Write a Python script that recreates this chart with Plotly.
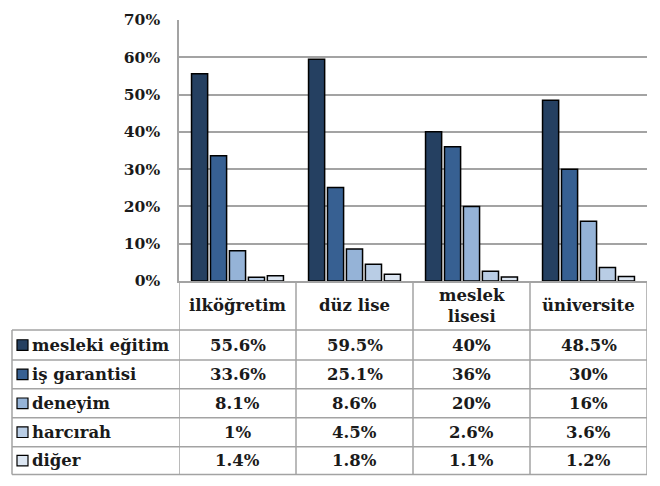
import plotly.graph_objects as go

# veriler (yüzde)
kategoriler = ["ilköğretim", "düz lise", "meslek lisesi", "üniversite"]
baslik_etiketleri = ["ilköğretim", "düz lise", "meslek<br>lisesi", "üniversite"]
seriler = ["mesleki eğitim", "iş garantisi", "deneyim", "harcırah", "diğer"]
mesleki_egitim = [55.6, 59.5, 40, 48.5]
is_garantisi = [33.6, 25.1, 36, 30]
deneyim = [8.1, 8.6, 20, 16]
harcirah = [1, 4.5, 2.6, 3.6]
diger = [1.4, 1.8, 1.1, 1.2]
degerler = [mesleki_egitim, is_garantisi, deneyim, harcirah, diger]
renkler = ["#254061", "#376092", "#95B3D7", "#B9CDE5", "#DCE6F2"]

FONT = "Georgia, 'DejaVu Serif', serif"
GRI = "#a3a3a3"

W, H = 660, 486
L, R, T, B = 179, 13, 10, 205
PW, PH = W - L - R, H - T - B
Y0 = T + PH  # piksel: 0% çizgisi


def px(x):
    return (x - L) / PW


def py(y):
    return (Y0 - y) / PH


fig = go.Figure()
for ad, vals, renk in zip(seriler, degerler, renkler):
    fig.add_trace(go.Bar(
        x=kategoriler, y=vals, name=ad,
        marker=dict(color=renk, line=dict(color="black", width=1.5)),
        hovertemplate="%{x}<br>" + ad + ": %{y}%<extra></extra>",
    ))

# tablo satır sınırları (piksel)
satirlar = [332, 363, 393, 423, 453, 482]
shapes = []
cizgi = dict(color=GRI, width=1.5)
# yatay çizgiler
for y in satirlar:
    shapes.append(dict(type="line", xref="paper", yref="paper",
                       x0=px(12), x1=1, y0=py(y), y1=py(y), line=cizgi))
# dikey çizgiler (kategori sınırları)
for k in range(len(kategoriler) + 1):
    shapes.append(dict(type="line", xref="x", yref="paper",
                       x0=k - 0.5, x1=k - 0.5, y0=0, y1=py(satirlar[-1]), line=cizgi))
shapes.append(dict(type="line", xref="paper", yref="paper",
                   x0=px(12), x1=px(12), y0=py(satirlar[0]), y1=py(satirlar[-1]), line=cizgi))

annotations = []
yazi = dict(family=FONT, size=16.5, color="#1a1a1a", weight="bold")
# başlık satırı
for i, et in enumerate(baslik_etiketleri):
    annotations.append(dict(x=i, y=py((Y0 + satirlar[0]) / 2), xref="x", yref="paper",
                            xanchor="center", yanchor="middle",
                            text=et, showarrow=False, font=yazi))
# veri satırları
for j, (ad, vals, renk) in enumerate(zip(seriler, degerler, renkler)):
    ym = (satirlar[j] + satirlar[j + 1]) / 2
    shapes.append(dict(type="rect", xref="paper", yref="paper",
                       x0=px(17), x1=px(28), y0=py(ym - 5.5), y1=py(ym + 5.5),
                       fillcolor=renk, line=dict(color="black", width=1.2)))
    annotations.append(dict(x=px(30), y=py(ym), xref="paper", yref="paper",
                            xanchor="left", yanchor="middle", text=ad,
                            showarrow=False, font=yazi))
    for i, v in enumerate(vals):
        annotations.append(dict(x=i, y=py(ym), xref="x", yref="paper",
                                xanchor="center", yanchor="middle",
                                text="%g%%" % v, showarrow=False, font=yazi))

fig.update_layout(
    width=W, height=H, autosize=False,
    margin=dict(l=L, r=R, t=T, b=B),
    plot_bgcolor="white", paper_bgcolor="white",
    showlegend=False,
    barmode="group", bargap=0.19, bargroupgap=0.15,
    font=dict(family=FONT, size=15, color="#1a1a1a"),
    xaxis=dict(range=[-0.5, len(kategoriler) - 0.5], showticklabels=False,
               showgrid=False, showline=True, linecolor=GRI, linewidth=1.5,
               fixedrange=True),
    yaxis=dict(range=[0, 70], dtick=10, ticksuffix="%", showgrid=True,
               gridcolor=GRI, gridwidth=1.5, showline=True, linecolor=GRI,
               linewidth=1.5, zeroline=False, ticklabelstandoff=14,
               tickfont=dict(family=FONT, size=15.5, color="#1a1a1a", weight="bold"),
               fixedrange=True),
    shapes=shapes,
    annotations=annotations,
)

# sayfa kenar boşluğunu kaldır
fig.write_html("out.html", config={"displayModeBar": False},
               post_script="document.body.style.margin='0px';")
